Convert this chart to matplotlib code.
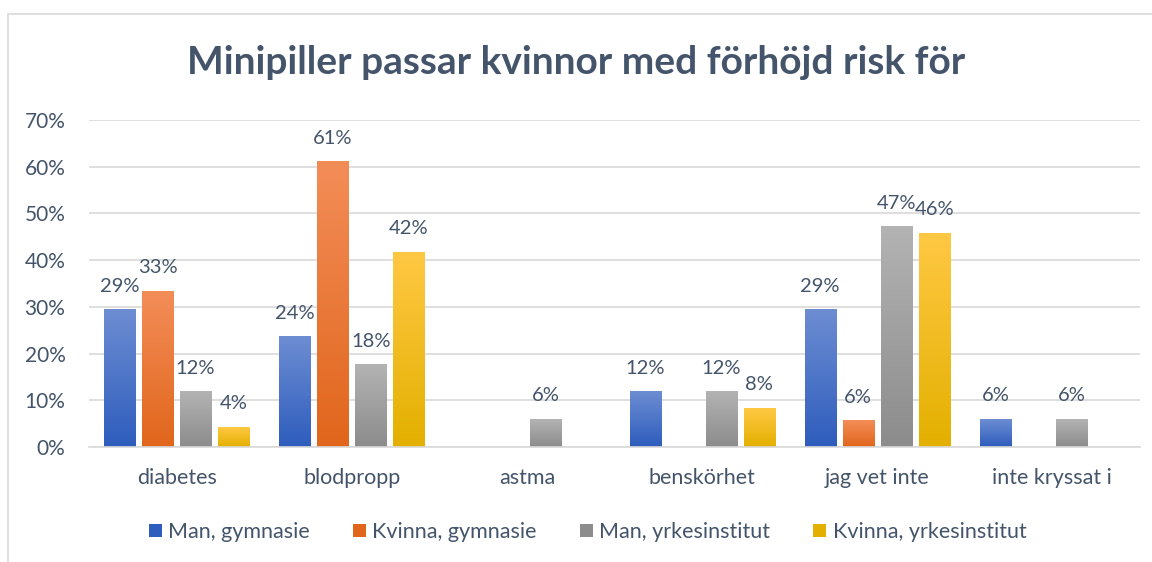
import numpy as np
import matplotlib.pyplot as plt
from matplotlib.colors import LinearSegmentedColormap
from matplotlib.patches import Rectangle, Patch

categories = ['diabetes', 'blodpropp', 'astma', 'benskörhet', 'jag vet inte', 'inte kryssat i']
series_names = ['Man, gymnasie', 'Kvinna, gymnasie', 'Man, yrkesinstitut', 'Kvinna, yrkesinstitut']
man_gymnasie = [29.4, 23.6, np.nan, 11.8, 29.4, 5.9]
kvinna_gymnasie = [33.3, 61.1, np.nan, np.nan, 5.6, np.nan]
man_yrkes = [11.8, 17.6, 5.9, 11.8, 47.1, 5.9]
kvinna_yrkes = [4.2, 41.7, np.nan, 8.3, 45.8, np.nan]
yticks = [0, 10, 20, 30, 40, 50, 60, 70]

# top / bottom colours of the gradient fills
grad_colors = [('#6d8dd2', '#2e5dbd'),
               ('#f38d58', '#e1661c'),
               ('#b3b3b3', '#8c8c8c'),
               ('#ffc843', '#e3b000')]
text_color = '#44546a'
grid_color = '#d9d9d9'

plt.rcParams['font.family'] = ['Lato', 'DejaVu Sans']

fig = plt.figure(figsize=(11.52, 5.62), dpi=100)
fig.patches.append(Rectangle((8 / 1152, -0.1), 1.2, 1 - 14 / 562 + 0.1,
                             transform=fig.transFigure, fill=False,
                             edgecolor=grid_color, linewidth=1.2))
ax = fig.add_axes([89 / 1152, 1 - 447 / 562, (1140 - 89) / 1152, (447 - 120) / 562])

all_series = [man_gymnasie, kvinna_gymnasie, man_yrkes, kvinna_yrkes]
x = np.arange(len(categories))
width = 0.177
step = 0.217
offsets = (np.arange(4) - 1.5) * step

for si, vals in enumerate(all_series):
    cmap = LinearSegmentedColormap.from_list('g%d' % si, [grad_colors[si][1], grad_colors[si][0]])
    for ci, v in enumerate(vals):
        if np.isnan(v):
            continue
        x0 = x[ci] + offsets[si] - width / 2
        grad = np.linspace(0, 1, 100).reshape(-1, 1)
        ax.imshow(grad, extent=[x0, x0 + width, 0, v], origin='lower', cmap=cmap,
                  aspect='auto', zorder=2, interpolation='bilinear')
        ax.text(x[ci] + offsets[si], v + 3.2, '%d%%' % round(v), ha='center', va='bottom',
                fontsize=14.5, color=text_color, zorder=3)

ax.set_xlim(-0.5, len(categories) - 0.5)
ax.set_ylim(0, 70)
ax.set_yticks(yticks)
ax.set_yticklabels(['%d%%' % t for t in yticks], fontsize=15, color=text_color)
ax.set_xticks(x)
ax.set_xticklabels(categories, fontsize=15.5, color=text_color)
ax.tick_params(length=0)
ax.tick_params(axis='x', pad=15)
ax.tick_params(axis='y', pad=17)
ax.grid(axis='y', color=grid_color, linewidth=1.2, zorder=0)
ax.set_axisbelow(True)
for s in ax.spines.values():
    s.set_visible(False)
ax.spines['bottom'].set_visible(True)
ax.spines['bottom'].set_color(grid_color)
ax.spines['bottom'].set_linewidth(1.2)

fig.text(0.5, 1 - 62 / 562, 'Minipiller passar kvinnor med förhöjd risk för',
         ha='center', va='center', fontsize=28, fontweight='bold', color=text_color)

handles = [Patch(facecolor=grad_colors[i][1], edgecolor='none') for i in range(4)]
fig.legend(handles, series_names, loc='center', bbox_to_anchor=(0.51, 1 - 532 / 562),
           ncol=4, frameon=False, fontsize=15.5, labelcolor=text_color,
           handlelength=0.6, handleheight=0.6, handletextpad=0.3, columnspacing=2.0)

fig.savefig('out.png', dpi=100)
